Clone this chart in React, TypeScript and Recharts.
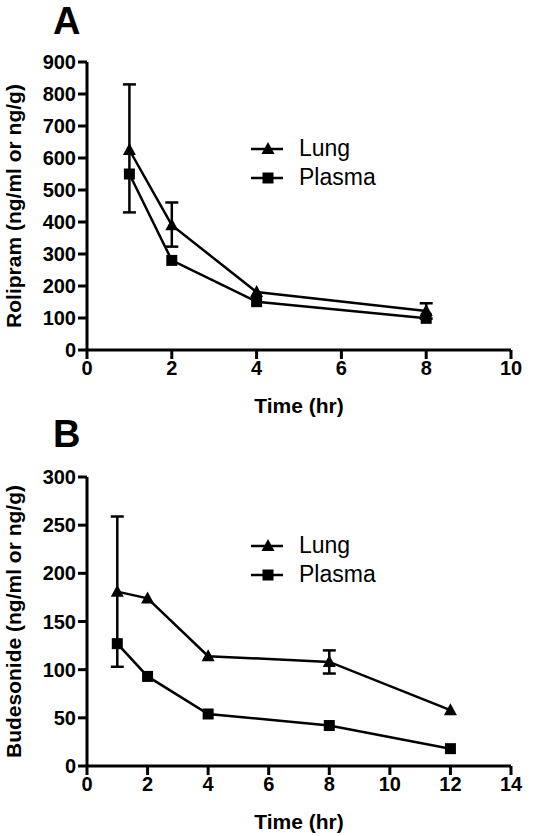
import { LineChart, Line, XAxis, YAxis, ErrorBar } from 'recharts'

const timeA = [1, 2, 4, 8]
const lungA = [625, 390, 181, 122]
const lungErrA: ([number, number] | null)[] = [[195, 205], [67, 71], null, [24, 24]]
const plasmaA = [550, 280, 151, 99]

const timeB = [1, 2, 4, 8, 12]
const lungB = [181, 174, 114, 108, 58]
const lungErrB: ([number, number] | null)[] = [[78, 78], null, null, [12, 12], null]
const plasmaB = [127, 93, 54, 42, 18]

const ticksA_x = [0, 2, 4, 6, 8, 10]
const ticksA_y = [0, 100, 200, 300, 400, 500, 600, 700, 800, 900]
const ticksB_x = [0, 2, 4, 6, 8, 10, 12, 14]
const ticksB_y = [0, 50, 100, 150, 200, 250, 300]

const FONT = '"Liberation Sans", Arial, sans-serif'

const dataA = timeA.map((t, i) => ({
  t,
  lung: lungA[i],
  lungErr: lungErrA[i] ?? undefined,
  plasma: plasmaA[i],
}))

const dataB = timeB.map((t, i) => ({
  t,
  lung: lungB[i],
  lungErr: lungErrB[i] ?? undefined,
  plasma: plasmaB[i],
}))

const Triangle = (props: any) => {
  const { cx, cy } = props
  if (cx == null || cy == null) return null
  return <polygon points={`${cx},${cy - 7} ${cx - 6.5},${cy + 5} ${cx + 6.5},${cy + 5}`} fill="#000" />
}

const Square = (props: any) => {
  const { cx, cy } = props
  if (cx == null || cy == null) return null
  return <rect x={cx - 5.5} y={cy - 5.5} width={11} height={11} fill="#000" />
}

// legend drawn by hand, Recharts' Legend eats into the plot area
const LegendBox = ({ left, top }: { left: number; top: number }) => (
  <div
    style={{
      position: 'absolute',
      left,
      top,
      fontFamily: FONT,
      fontSize: 23,
      color: '#000',
      lineHeight: '29px',
    }}
  >
    <div style={{ display: 'flex', alignItems: 'center' }}>
      <svg width={32} height={16}>
        <line x1={0} y1={8} x2={32} y2={8} stroke="#000" strokeWidth={2.5} />
        <polygon points="17,1 10.5,13 23.5,13" fill="#000" />
      </svg>
      <span style={{ marginLeft: 16 }}>Lung</span>
    </div>
    <div style={{ display: 'flex', alignItems: 'center' }}>
      <svg width={32} height={16}>
        <line x1={0} y1={8} x2={32} y2={8} stroke="#000" strokeWidth={2.5} />
        <rect x={11.5} y={2.5} width={11} height={11} fill="#000" />
      </svg>
      <span style={{ marginLeft: 16 }}>Plasma</span>
    </div>
  </div>
)

const tickStyle = { fill: '#000', fontSize: 20, fontWeight: 700, fontFamily: FONT }
const axisLine = { stroke: '#000', strokeWidth: 3 }
const labelStyle = { fill: '#000', fontSize: 21, fontWeight: 700, fontFamily: FONT }

const Panel = ({
  letter,
  letterTop,
  data,
  xTicks,
  yTicks,
  yLabel,
  panelTop,
  height,
  top,
  bottom,
  legendTop,
}: {
  letter: string
  letterTop: number
  data: any[]
  xTicks: number[]
  yTicks: number[]
  yLabel: string
  panelTop: number
  height: number
  top: number
  bottom: number
  legendTop: number
}) => (
  <div style={{ position: 'absolute', left: 0, top: panelTop, width: 533, height }}>
    <div
      style={{
        position: 'absolute',
        left: 53,
        top: letterTop,
        fontFamily: FONT,
        fontWeight: 700,
        fontSize: 38,
        lineHeight: '38px',
      }}
    >
      {letter}
    </div>
    <LineChart width={533} height={height} data={data} margin={{ top, right: 22, bottom, left: 0 }}>
      <XAxis
        dataKey="t"
        type="number"
        domain={[xTicks[0], xTicks[xTicks.length - 1]]}
        ticks={xTicks}
        height={30}
        axisLine={axisLine}
        tickLine={axisLine}
        tickSize={9}
        tickMargin={2}
        tick={tickStyle}
        label={{
          content: (p: any) => {
            const vb = p.viewBox
            return (
              <text
                x={vb.x + vb.width / 2}
                y={vb.y + 55}
                textAnchor="middle"
                dominantBaseline="central"
                style={labelStyle}
              >
                Time (hr)
              </text>
            )
          },
        }}
      />
      <YAxis
        type="number"
        domain={[yTicks[0], yTicks[yTicks.length - 1]]}
        ticks={yTicks}
        width={87}
        axisLine={axisLine}
        tickLine={axisLine}
        tickSize={9}
        tickMargin={2}
        tick={tickStyle}
        label={{
          content: (p: any) => {
            const vb = p.viewBox
            const cy = vb.y + vb.height / 2
            return (
              <text
                x={13}
                y={cy}
                transform={`rotate(-90, 13, ${cy})`}
                textAnchor="middle"
                dominantBaseline="central"
                style={labelStyle}
              >
                {yLabel}
              </text>
            )
          },
        }}
      />
      <Line
        dataKey="lung"
        stroke="#000"
        strokeWidth={2.5}
        dot={<Triangle />}
        activeDot={false}
        isAnimationActive={false}
      >
        <ErrorBar dataKey="lungErr" direction="y" width={6.5} stroke="#000" strokeWidth={2.5} />
      </Line>
      <Line
        dataKey="plasma"
        stroke="#000"
        strokeWidth={2.5}
        dot={<Square />}
        activeDot={false}
        isAnimationActive={false}
      />
    </LineChart>
    <LegendBox left={251} top={legendTop} />
  </div>
)

export default function App() {
  return (
    <div style={{ position: 'absolute', left: 0, top: 0, width: 533, height: 836, background: '#fff' }}>
      <Panel
        letter="A"
        letterTop={2}
        data={dataA}
        xTicks={ticksA_x}
        yTicks={ticksA_y}
        yLabel="Rolipram (ng/ml or ng/g)"
        panelTop={0}
        height={420}
        top={62}
        bottom={40}
        legendTop={134}
      />
      <Panel
        letter="B"
        letterTop={15}
        data={dataB}
        xTicks={ticksB_x}
        yTicks={ticksB_y}
        yLabel="Budesonide (ng/ml or ng/g)"
        panelTop={400}
        height={436}
        top={77}
        bottom={40}
        legendTop={131}
      />
    </div>
  )
}
